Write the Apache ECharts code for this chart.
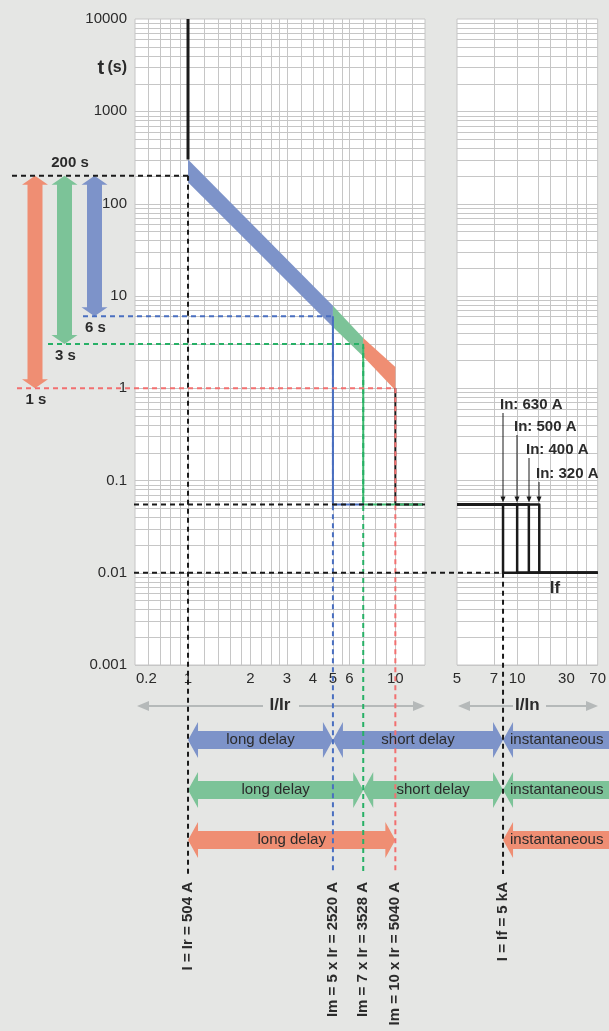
<!DOCTYPE html>
<html>
<head>
<meta charset="utf-8">
<script src="https://cdn.jsdelivr.net/npm/echarts@6/dist/echarts.min.js"></script>
<style>
html, body { margin: 0; padding: 0; background: #e5e6e4; }
#chart { width: 609px; height: 1031px; }
</style>
</head>
<body>
<div id="chart"></div>
<script>
// axis ticks and grid
const irTickValues = [0.63, 1, 2, 3, 4, 5, 6, 10];
const irTickLabels = ['0.2', '1', '2', '3', '4', '5', '6', '10'];
const inTickValues = [5, 7, 10, 30, 70];
const irRange = [0.555, 13.9];
const inRange = [5, 70];
const tRange = [0.001, 10000];
const irGrid = [0.64, 0.73, 0.82, 0.91, 1, 1.2, 1.4, 1.6, 1.8, 2, 2.25, 2.5, 2.75, 3, 3.5, 4, 4.5, 5, 5.5, 6, 7, 8, 9, 10, 12];
const inGrid = [7, 10, 15, 20, 30, 40, 50];
const tDecades = [0.001, 0.01, 0.1, 1, 10, 100, 1000];
const tSteps = [1, 2, 3, 4, 5, 6, 7, 8, 9];

// long delay band, I/Ir -> t (s)
const bandCurrents = [1, 5, 7, 10];
const bandTop = [300, 7.8, 3.5, 1.7];
const bandBottom = [170, 4.6, 2.2, 0.95];

// settings: blue, green, red
const imMultiples = [5, 7, 10];
const imCurrents = ['2520', '3528', '5040'];
const trTimes = [6, 3, 1];
const tripStart = [5.5, 2.8, 1];
const tripEnd = [7, 13.6, 13.6];
const trTop = 200;
const irCurrent = '504';
const tsd = 0.055;
const tInst = 0.01;
const ifCurrent = '5';

// instantaneous, I/In
const inRatings = ['630', '500', '400', '320'];
const ifOverIn = [7.94, 10, 12.5, 15.6];

// the I/In scale of the picture is logarithmic in (I/In - 4)
const inOffset = 4;
function inAxis(v) { return v - inOffset; }

const bandColors = ['#7d93c9', '#7cc398', '#ef8e73'];
const dashColors = ['#4a6fc0', '#27b066', '#f27070'];
const tripColors = ['#4a6fc0', '#3cb96f', '#1a1a1a'];
const gridColor = '#c6c6c6';
const textColor = '#2b2b2b';
const font = '"Liberation Sans", Arial, sans-serif';

const chart = echarts.init(document.getElementById('chart'));

function nearestLabel(values, labels, v) {
	let best = 0;
	values.forEach(function (t, i) {
		if (Math.abs(Math.log(t) - Math.log(v)) < Math.abs(Math.log(values[best]) - Math.log(v))) best = i;
	});
	return labels[best];
}

function gridLinesSeries(idx, xLines, xRange) {
	return {
		type: 'custom', xAxisIndex: idx, yAxisIndex: idx, silent: true, z: 1,
		data: [[xRange[0], tRange[0]]],
		renderItem: function (params, api) {
			const lines = [];
			const a = api.coord([xRange[0], tRange[1]]);
			const b = api.coord([xRange[1], tRange[0]]);
			xLines.forEach(function (v) {
				const x = Math.round(api.coord([v, 1])[0]) + 0.5;
				lines.push({ type: 'line', shape: { x1: x, y1: a[1], x2: x, y2: b[1] }, style: { stroke: gridColor, lineWidth: 1 } });
			});
			tDecades.forEach(function (d) {
				tSteps.forEach(function (s) {
					const y = Math.round(api.coord([xRange[0], d * s])[1]) + 0.5;
					lines.push({ type: 'line', shape: { x1: a[0], y1: y, x2: b[0], y2: y }, style: { stroke: gridColor, lineWidth: 1 } });
				});
			});
			return { type: 'group', children: lines };
		}
	};
}

const series = [
	gridLinesSeries(0, irGrid, irRange),
	gridLinesSeries(1, inGrid.map(inAxis), inRange.map(inAxis)),
	{
		type: 'custom', xAxisIndex: 0, yAxisIndex: 0, silent: true, z: 3,
		data: bandColors.map(function (c, i) { return [bandCurrents[i], bandTop[i]]; }),
		renderItem: function (params, api) {
			const i = params.dataIndex;
			const pts = [
				api.coord([bandCurrents[i], bandTop[i]]),
				api.coord([bandCurrents[i + 1], bandTop[i + 1]]),
				api.coord([bandCurrents[i + 1], bandBottom[i + 1]]),
				api.coord([bandCurrents[i], bandBottom[i]])
			];
			return { type: 'polygon', shape: { points: pts }, style: { fill: bandColors[i] } };
		}
	},
	{
		type: 'line', xAxisIndex: 0, yAxisIndex: 0, z: 4, showSymbol: false, silent: true,
		data: [[1, tRange[1]], [1, bandTop[0]]],
		lineStyle: { color: '#1a1a1a', width: 3 }
	}
];

[2, 1, 0].forEach(function (i) {
	series.push({
		type: 'line', xAxisIndex: 0, yAxisIndex: 0, z: 4, showSymbol: false, silent: true,
		data: [[imMultiples[i], tripStart[i]], [imMultiples[i], tsd], [tripEnd[i], tsd]],
		lineStyle: { color: tripColors[i], width: 2 }
	});
});

ifOverIn.forEach(function (x) {
	series.push({
		type: 'line', xAxisIndex: 1, yAxisIndex: 1, z: 4, showSymbol: false, silent: true,
		data: [[inAxis(inRange[0]), tsd], [inAxis(x), tsd], [inAxis(x), tInst], [inAxis(inRange[1]), tInst]],
		lineStyle: { color: '#1a1a1a', width: 2.5, join: 'round' }
	});
});

const labelStyle = { color: textColor, fontSize: 15, fontFamily: font };
const inTickAxis = inTickValues.map(inAxis);

chart.setOption({
	animation: false,
	backgroundColor: '#e5e6e4',
	grid: [
		{ left: 135, top: 19, width: 290, height: 646, show: true, backgroundColor: '#ffffff', borderColor: gridColor, borderWidth: 1 },
		{ left: 457, top: 19, width: 144, height: 646, show: true, backgroundColor: '#ffffff', borderColor: gridColor, borderWidth: 1 }
	],
	xAxis: [
		{
			type: 'log', gridIndex: 0, min: irRange[0], max: irRange[1],
			axisLine: { show: false }, axisTick: { show: false }, splitLine: { show: false },
			axisLabel: Object.assign({ customValues: irTickValues, margin: 6, hideOverlap: false,
				formatter: function (v) { return nearestLabel(irTickValues, irTickLabels, v); } }, labelStyle),
			name: 'I/Ir', nameLocation: 'middle', nameGap: 32,
			nameTextStyle: { color: textColor, fontSize: 17, fontWeight: 'bold', fontFamily: font }
		},
		{
			type: 'log', gridIndex: 1, min: inAxis(inRange[0]), max: inAxis(inRange[1]),
			axisLine: { show: false }, axisTick: { show: false }, splitLine: { show: false },
			axisLabel: Object.assign({ customValues: inTickAxis, margin: 6, hideOverlap: false,
				formatter: function (v) { return nearestLabel(inTickAxis, inTickValues.map(String), v); } }, labelStyle),
			name: 'I/In', nameLocation: 'middle', nameGap: 32,
			nameTextStyle: { color: textColor, fontSize: 17, fontWeight: 'bold', fontFamily: font }
		}
	],
	yAxis: [
		{
			type: 'log', gridIndex: 0, min: tRange[0], max: tRange[1],
			axisLine: { show: false }, axisTick: { show: false }, splitLine: { show: false },
			axisLabel: Object.assign({ margin: 8, showMinLabel: true, showMaxLabel: true,
				formatter: function (v) { return String(+v.toPrecision(3)); } }, labelStyle)
		},
		{
			type: 'log', gridIndex: 1, min: tRange[0], max: tRange[1],
			axisLine: { show: false }, axisTick: { show: false }, splitLine: { show: false },
			axisLabel: { show: false }
		}
	],
	series: series
});

// annotations placed through the axis scales
const P0 = function (x, t) { return chart.convertToPixel({ gridIndex: 0 }, [x, t]); };
const P1 = function (x, t) { return chart.convertToPixel({ gridIndex: 1 }, [inAxis(x), t]); };

const graphics = [];
const dashBottom = 874;
const gridLeftEdge = 134;

function dash(x1, y1, x2, y2, color) {
	graphics.push({ type: 'line', silent: true, z: 20, shape: { x1: x1, y1: y1, x2: x2, y2: y2 },
		style: { stroke: color, lineWidth: 2, lineDash: [5, 4] } });
}

function text(x, y, str, opts) {
	graphics.push({ type: 'text', silent: true, z: 30, x: x, y: y, rotation: opts.rotation || 0,
		style: Object.assign({ text: str, fill: textColor, font: '15px ' + font, textAlign: 'center', textVerticalAlign: 'middle' }, opts.style || {}) });
}

function poly(points, color, z) {
	graphics.push({ type: 'polygon', silent: true, z: z || 15, shape: { points: points }, style: { fill: color } });
}

function vArrow(cx, y1, y2, color) {
	const hw = 7.5, hh = 13, hl = 9;
	poly([[cx, y1], [cx + hh, y1 + hl], [cx + hw, y1 + hl], [cx + hw, y2 - hl], [cx + hh, y2 - hl], [cx, y2],
		[cx - hh, y2 - hl], [cx - hw, y2 - hl], [cx - hw, y1 + hl], [cx - hh, y1 + hl]], color);
}

function hArrow(x1, x2, cy, color, leftHead, rightHead) {
	const bh = 9, hh = 18, hl = 10;
	const pts = [];
	if (leftHead) pts.push([x1, cy], [x1 + hl, cy - hh], [x1 + hl, cy - bh]);
	else pts.push([x1, cy - bh]);
	if (rightHead) pts.push([x2 - hl, cy - bh], [x2 - hl, cy - hh], [x2, cy], [x2 - hl, cy + hh], [x2 - hl, cy + bh]);
	else pts.push([x2, cy - bh], [x2, cy + bh]);
	if (leftHead) pts.push([x1 + hl, cy + bh], [x1 + hl, cy + hh]);
	else pts.push([x1, cy + bh]);
	poly(pts, color, 12);
}

const pIr = P0(1, trTop);
const pIf = P1(ifOverIn[0], tInst);
const xIm = imMultiples.map(function (m) { return P0(m, 1)[0]; });
const yTr = trTimes.map(function (t) { return P0(1, t)[1]; });

// left side: tr arrows and dashed levels
const arrowX = [94.5, 64.5, 35];
const dashStart = [83, 48, 17];
[2, 1, 0].forEach(function (i) {
	vArrow(arrowX[i], pIr[1], yTr[i], bandColors[i]);
});
dash(12, pIr[1], pIr[0], pIr[1], '#1a1a1a');
dash(pIr[0], pIr[1], pIr[0], dashBottom, '#1a1a1a');
[0, 1, 2].forEach(function (i) {
	dash(dashStart[i], yTr[i], xIm[i], yTr[i], dashColors[i]);
	dash(xIm[i], yTr[i], xIm[i], dashBottom, dashColors[i]);
	text(arrowX[i] + 1, yTr[i] + 12, trTimes[i] + ' s', { style: { font: 'bold 15px ' + font } });
});
text(70, 163, trTop + ' s', { style: { font: 'bold 15px ' + font } });

const ySd = P0(1, tsd)[1];
dash(gridLeftEdge, ySd, P0(irRange[1], tsd)[0], ySd, '#1a1a1a');
dash(gridLeftEdge, pIf[1], pIf[0], pIf[1], '#1a1a1a');
dash(pIf[0], pIf[1], pIf[0], dashBottom, '#1a1a1a');

// y axis title
graphics.push({ type: 'text', silent: true, z: 30, x: 127, y: 68,
	style: { text: '{a|t} {b|(s)}', fill: textColor, textAlign: 'right', textVerticalAlign: 'middle',
		rich: { a: { font: 'bold 20px ' + font, fill: textColor }, b: { font: 'bold 16px ' + font, fill: textColor } } } });

// In ratings
const inLabelY = [405, 427, 450, 474];
ifOverIn.forEach(function (v, i) {
	const x = Math.round(P1(v, tsd)[0]);
	const tip = P1(v, tsd)[1] - 2;
	graphics.push({ type: 'line', silent: true, z: 25, shape: { x1: x, y1: inLabelY[i] + 8, x2: x, y2: tip - 5 },
		style: { stroke: '#1a1a1a', lineWidth: 1 } });
	poly([[x - 2.5, tip - 6], [x + 2.5, tip - 6], [x, tip]], '#1a1a1a', 25);
	text(x - 3, inLabelY[i], 'In: ' + inRatings[i] + ' A', { style: { font: 'bold 15px ' + font, textAlign: 'left' } });
});
text(555, 588, 'If', { style: { font: 'bold 17px ' + font } });

// gray axis arrows
const axisArrowY = 706;
function grayArrow(x1, x2, x3, x4) {
	const c = '#b5b9b9';
	graphics.push({ type: 'line', silent: true, z: 10, shape: { x1: x1 + 8, y1: axisArrowY, x2: x2, y2: axisArrowY }, style: { stroke: c, lineWidth: 2 } });
	graphics.push({ type: 'line', silent: true, z: 10, shape: { x1: x3, y1: axisArrowY, x2: x4 - 8, y2: axisArrowY }, style: { stroke: c, lineWidth: 2 } });
	poly([[x1, axisArrowY], [x1 + 12, axisArrowY - 5], [x1 + 12, axisArrowY + 5]], c, 10);
	poly([[x4, axisArrowY], [x4 - 12, axisArrowY - 5], [x4 - 12, axisArrowY + 5]], c, 10);
}
grayArrow(137, 263, 299, 425);
grayArrow(458, 513, 546, 598);

// delay zone arrows
const rowY = [740, 790, 840];
const pageEnd = 630;
[0, 1, 2].forEach(function (i) {
	const cy = rowY[i];
	const x1 = pIr[0];
	const x2 = xIm[i];
	hArrow(x1, x2, cy, bandColors[i], true, true);
	text((x1 + x2) / 2, cy, 'long delay', {});
	if (i < 2) {
		hArrow(x2, pIf[0], cy, bandColors[i], true, true);
		text((x2 + pIf[0]) / 2, cy, 'short delay', {});
	}
	hArrow(pIf[0], pageEnd, cy, bandColors[i], true, false);
	text(pIf[0] + 7, cy, 'instantaneous', { style: { textAlign: 'left' } });
});

// vertical current labels
const vStyle = { font: 'bold 15px ' + font, textAlign: 'right' };
const labelTop = 882;
text(pIr[0], labelTop, 'I = Ir = ' + irCurrent + ' A', { rotation: Math.PI / 2, style: vStyle });
[0, 1, 2].forEach(function (i) {
	text(xIm[i], labelTop, 'Im = ' + imMultiples[i] + ' x Ir = ' + imCurrents[i] + ' A', { rotation: Math.PI / 2, style: vStyle });
});
text(pIf[0], labelTop, 'I = If = ' + ifCurrent + ' kA', { rotation: Math.PI / 2, style: vStyle });

chart.setOption({ graphic: { elements: graphics } });
</script>
</body>
</html>
